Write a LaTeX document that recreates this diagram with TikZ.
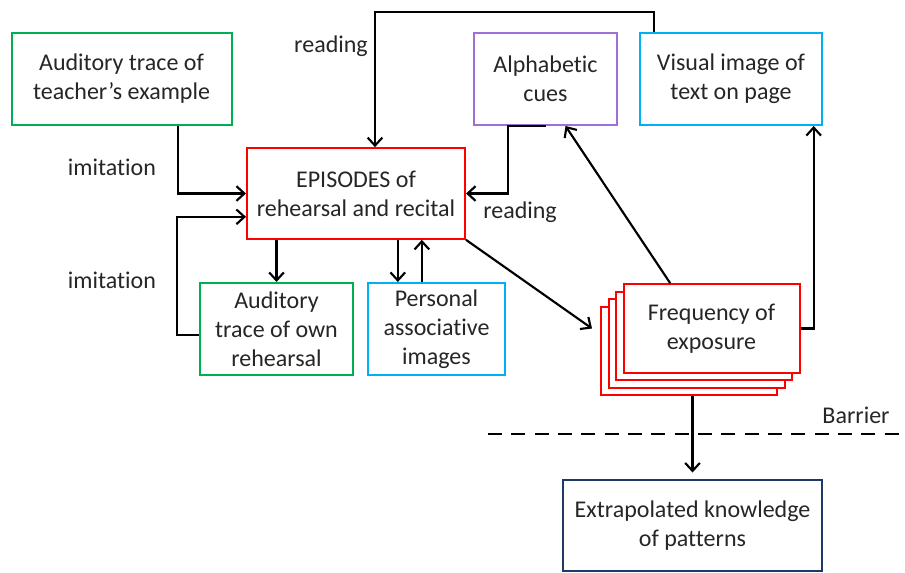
\documentclass[tikz,border=0pt]{standalone}
\usepackage{fontspec}
\setmainfont{Carlito}[Ligatures={NoCommon}]
\usetikzlibrary{arrows.meta}

\definecolor{boxgreen}{RGB}{0,176,80}
\definecolor{boxred}{RGB}{255,0,0}
\definecolor{boxpurple}{RGB}{160,110,215}
\definecolor{boxcyan}{RGB}{0,176,240}
\definecolor{boxnavy}{RGB}{31,56,100}

\tikzset{
  box/.style={line width=1.5pt, fill=white, align=center, inner sep=2pt,
    font=\fontsize{18}{21.75}\selectfont, text=black!85},
  lbl/.style={font=\fontsize{18}{21.75}\selectfont, text=black!85},
  arr/.style={line width=1.6pt, -{Straight Barb[length=6pt,width=11pt,line width=1.6pt]}}
}

\begin{document}
\begin{tikzpicture}[x=0.75pt,y=-0.75pt]
    \useasboundingbox (0,0) rectangle (905,572);

    % Boxes
    \node[box, draw=boxgreen, minimum width=165pt, minimum height=69pt] (teach) at (121.5,79)
      {Auditory trace of\\teacher’s example};
    \node[box, draw=boxred, minimum width=163.5pt, minimum height=68pt] (epi) at (356,193.5)
      {EPISODES of\\rehearsal and recital};
    \node[box, draw=boxpurple, minimum width=107pt, minimum height=69pt] (alpha) at (545.5,79)
      {Alphabetic\\cues};
    \node[box, draw=boxcyan, minimum width=136.5pt, minimum height=69pt] (visual) at (731,79)
      {Visual image of\\text on page};
    \node[box, draw=boxgreen, minimum width=114.5pt, minimum height=69pt] (own) at (276.5,329)
      {Auditory\\trace of own\\rehearsal};
    \node[box, draw=boxcyan, minimum width=102.5pt, minimum height=69pt] (pers) at (436.5,329)
      {Personal\\associative\\images};

    % Stack of exposures
    \foreach \k in {3,2,1}
      \node[box, draw=boxred, minimum width=132pt, minimum height=66.5pt] (freq\k)
        at (711.5-7.5*\k,328.5+7.5*\k) {};
    \node[box, draw=boxred, minimum width=132pt, minimum height=66.5pt] (freq) at (711.5,328.5)
      {Frequency of\\exposure};

    \node[box, draw=boxnavy, minimum width=194pt, minimum height=68pt] (extra) at (692.5,525.5)
      {Extrapolated knowledge\\of patterns};

    % Barrier
    \coordinate (barL) at (488,434);
    \coordinate (barR) at (905,434);
    \draw[line width=1.6pt, dash pattern=on 10.5pt off 7pt] (barL) -- (barR);
    \node[lbl] (barrier) at (856,415) {Barrier};

    % Connectors
    \draw[arr] ([xshift=42.5pt]teach.south) |- (epi.west);
    \draw[arr] ([yshift=-4.5pt]own.west) -- ++(-22,0) |- ([yshift=-17.5pt]epi.west);
    \coordinate (loop) at (375,12);
    \draw[arr] ([xshift=11pt]visual.north west) |- (loop) -- (loop |- epi.north);
    \draw[arr] (alpha.south) -- ++(-37.5,0) |- (epi.east);
    \draw[arr] (epi.south -| own.north) -- (own.north);
    \draw[arr] ([xshift=-29pt]pers.north |- epi.south) -- ([xshift=-29pt]pers.north);
    \draw[arr] ([xshift=-11pt]pers.north) -- ([xshift=-11pt]pers.north |- epi.south);
    \draw[arr] (epi.south east) -- ([xshift=-6pt]freq3.west |- freq.west);
    \draw[arr] ([xshift=-31pt]freq.north) -- ([xshift=15pt]alpha.south);
    \draw[arr] (freq.east) -| ([xshift=-7pt]visual.south east);
    \draw[arr, shorten >=5pt] (freq3.south -| extra.north) -- (extra.north);

    % Labels
    \node[lbl] (imit1) at (112,167) {imitation};
    \node[lbl] (imit2) at (112,280) {imitation};
    \node[lbl] (read1) at (331,46) {reading};
    \node[lbl] (read2) at (520,212) {reading};
\end{tikzpicture}
\end{document}
